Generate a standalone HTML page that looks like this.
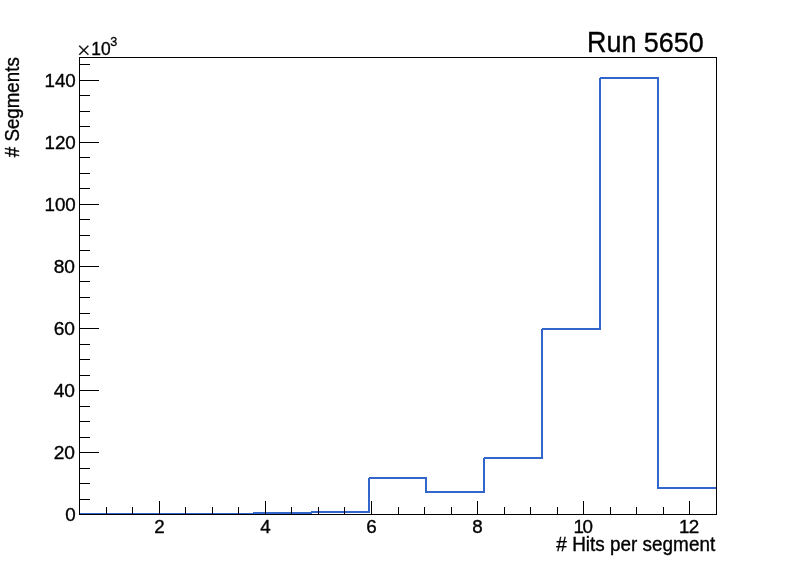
<!DOCTYPE html>
<html lang="en"><head><meta charset="utf-8"><title>Run 5650</title>
<style>html,body{margin:0;padding:0;background:#fff}body{width:796px;height:572px;overflow:hidden}text{fill:#000;stroke:#000}.t{font-family:"Liberation Sans",sans-serif}.s{font-family:"Liberation Serif",serif}</style></head>
<body>
<svg width="796" height="572" viewBox="0 0 796 572" style="display:block">
<rect x="0" y="0" width="796" height="572" fill="#fff"/>
<path d="M79 513h59v2h-59z M137 513h59v2h-59z M195 513h59v2h-59z M253 512h59v2h-59z M311 511h59v2h-59z M369 477h58v2h-58z M426 491h59v2h-59z M484 457h59v2h-59z M542 328h59v2h-59z M600 77h59v2h-59z M658 487h59v2h-59z M368 478h2v35h-2z M425 478h2v15h-2z M483 458h2v35h-2z M541 329h2v130h-2z M599 78h2v252h-2z M657 78h2v411h-2z" fill="#3366cc" stroke="none" shape-rendering="crispEdges"/>
<path d="M106.5 515V507 M132.5 515V507 M159.5 515V501 M185.5 515V507 M212.5 515V507 M238.5 515V507 M265.5 515V501 M291.5 515V507 M318.5 515V507 M344.5 515V507 M371.5 515V501 M398.5 515V507 M424.5 515V507 M451.5 515V507 M477.5 515V501 M504.5 515V507 M530.5 515V507 M557.5 515V507 M583.5 515V501 M610.5 515V507 M636.5 515V507 M663.5 515V507 M689.5 515V501 M79 514.5H99 M79 499.5H90 M79 483.5H90 M79 468.5H90 M79 452.5H99 M79 437.5H90 M79 421.5H90 M79 406.5H90 M79 390.5H99 M79 375.5H90 M79 359.5H90 M79 344.5H90 M79 328.5H99 M79 313.5H90 M79 297.5H90 M79 281.5H90 M79 266.5H99 M79 250.5H90 M79 235.5H90 M79 219.5H90 M79 204.5H99 M79 188.5H90 M79 173.5H90 M79 157.5H90 M79 142.5H99 M79 126.5H90 M79 111.5H90 M79 95.5H90 M79 80.5H99 M79 64.5H90" stroke="#000" stroke-width="1" fill="none" shape-rendering="crispEdges"/>
<rect x="79.5" y="57.5" width="637" height="457" fill="none" stroke="#000" stroke-width="1" shape-rendering="crispEdges"/>
<text transform="translate(159.4,533) scale(0.99,1)" font-size="19.0" text-anchor="middle" stroke-width="0.35" class="t">2</text>
<text transform="translate(265.4,533) scale(0.99,1)" font-size="19.0" text-anchor="middle" stroke-width="0.35" class="t">4</text>
<text transform="translate(371.4,533) scale(0.99,1)" font-size="19.0" text-anchor="middle" stroke-width="0.35" class="t">6</text>
<text transform="translate(477.4,533) scale(0.99,1)" font-size="19.0" text-anchor="middle" stroke-width="0.35" class="t">8</text>
<text transform="translate(573.4,533) scale(0.99,1)" font-size="19.0" text-anchor="start" letter-spacing="-1.3" stroke-width="0.35" class="t">10</text>
<text transform="translate(678.9,533) scale(0.99,1)" font-size="19.0" text-anchor="start" letter-spacing="-0.6" stroke-width="0.35" class="t">12</text>
<text transform="translate(75.8,521.4) scale(0.99,1)" font-size="19.0" text-anchor="end" stroke-width="0.35" class="t">0</text>
<text transform="translate(75.0,459.4) scale(1.01,1)" font-size="19.0" text-anchor="end" stroke-width="0.35" class="t">20</text>
<text transform="translate(75.0,397.4) scale(1.01,1)" font-size="19.0" text-anchor="end" stroke-width="0.35" class="t">40</text>
<text transform="translate(75.0,335.4) scale(1.01,1)" font-size="19.0" text-anchor="end" stroke-width="0.35" class="t">60</text>
<text transform="translate(75.0,273.4) scale(1.01,1)" font-size="19.0" text-anchor="end" stroke-width="0.35" class="t">80</text>
<text transform="translate(75.8,211.4) scale(0.99,1)" font-size="19.0" text-anchor="end" stroke-width="0.35" class="t">100</text>
<text transform="translate(75.8,149.4) scale(0.99,1)" font-size="19.0" text-anchor="end" stroke-width="0.35" class="t">120</text>
<text transform="translate(75.8,87.4) scale(0.99,1)" font-size="19.0" text-anchor="end" stroke-width="0.35" class="t">140</text>
<text transform="translate(715.2,551) scale(0.981,1)" font-size="19.3" text-anchor="end" stroke-width="0.35" class="t"># Hits per segment</text>
<text transform="translate(19.2,57.2) rotate(-90) scale(0.972,1)" font-size="19.3" text-anchor="end" stroke-width="0.35" class="t"># Segments</text>
<text transform="translate(77.1,57.8)" font-size="24" stroke-width="0.25" class="s">×</text>
<text transform="translate(91.2,55.0) scale(0.92,1)" font-size="19.0" text-anchor="start" stroke-width="0.35" class="t">10</text>
<text transform="translate(110.3,46.2) scale(0.95,1)" font-size="13.3" text-anchor="start" stroke-width="0.3" class="t">3</text>
<text transform="translate(587.0,51.9) scale(0.935,1)" font-size="28.8" text-anchor="start" stroke-width="0.35" class="t">Run <tspan font-size="27" textLength="64.03" lengthAdjust="spacingAndGlyphs">5650</tspan></text>
</svg>
</body></html>
